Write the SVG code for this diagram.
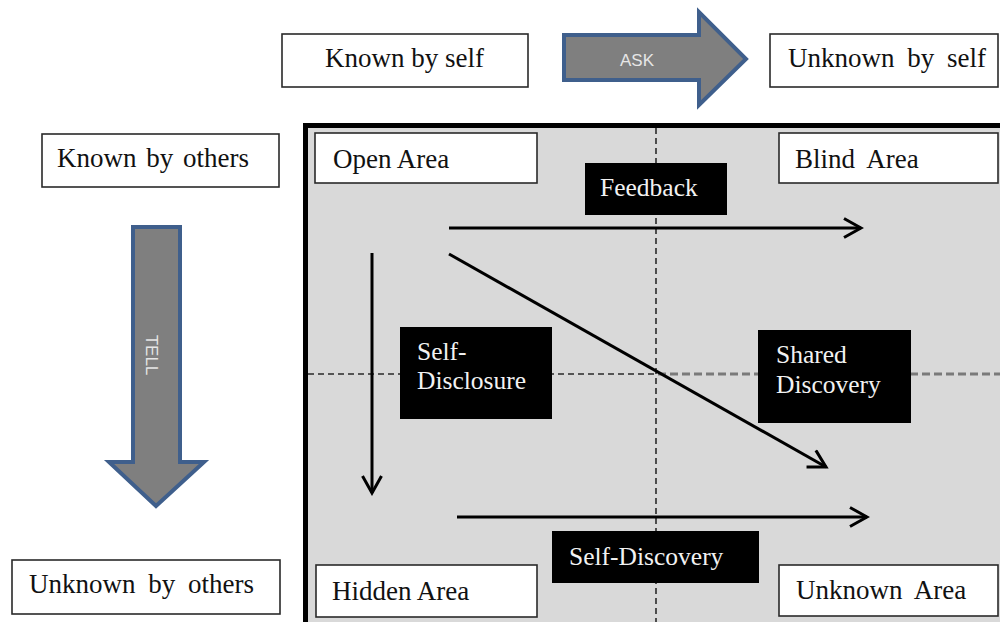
<svg xmlns="http://www.w3.org/2000/svg" width="1000" height="622" viewBox="0 0 1000 622">
<defs>
<style>
.wb{fill:#ffffff;stroke:#2a2a2a;stroke-width:1.6}
.bb{fill:#000000;stroke:none}
.wt{font-family:"Liberation Serif","Times New Roman",serif;font-size:27px;fill:#111111}
.bt{font-family:"Liberation Serif","Times New Roman",serif;font-size:25.5px;fill:#f2f2f2}
.big{fill:#7f7f7f;stroke:#3f5f8c;stroke-width:4;stroke-linejoin:miter}
.at{font-family:"Liberation Sans",Arial,sans-serif;font-size:17px;fill:#e6e6e6}
.conn{stroke:#000000;stroke-width:3;fill:none}
.dash{stroke:#2a2a2a;stroke-width:1.6;stroke-dasharray:6 4;fill:none}
.dash2{stroke:#7a7a7a;stroke-width:3;stroke-dasharray:8 4;fill:none}
</style>
<marker id="ah" markerUnits="userSpaceOnUse" markerWidth="22" markerHeight="22" viewBox="0 0 22 22" refX="19" refY="11" orient="auto">
<path d="M2,1.5 L19,11 L2,20.5" fill="none" stroke="#000" stroke-width="3"/>
</marker>
</defs>
<rect x="0" y="0" width="1000" height="622" fill="#ffffff"/>

<g id="grid-area">
<rect x="305.5" y="125.5" width="800" height="600" fill="#d9d9d9" stroke="#000" stroke-width="5"/>
<line class="dash" x1="656" y1="128" x2="656" y2="622"/>
<line class="dash" x1="308" y1="374" x2="656" y2="374"/>
<line class="dash2" x1="658" y1="374" x2="1000" y2="374"/>
</g>

<g id="known-by-self">
<rect class="wb" x="282" y="34" width="246" height="53"/>
<text class="wt" x="325" y="67">Known by self</text>
</g>
<g id="ask-arrow">
<path class="big" d="M564,35 L699,35 L699,12 L746,59 L699,105 L699,80 L564,80 Z"/>
<text class="at" x="637" y="66" text-anchor="middle">ASK</text>
</g>
<g id="unknown-by-self">
<rect class="wb" x="770" y="34" width="228" height="53"/>
<text class="wt" x="788" y="67" word-spacing="6">Unknown by self</text>
</g>
<g id="known-by-others">
<rect class="wb" x="42" y="134" width="237" height="53"/>
<text class="wt" x="57" y="167" word-spacing="3">Known by others</text>
</g>
<g id="tell-arrow">
<path class="big" d="M133,227 L180,227 L180,462 L204,462 L156,506 L109,462 L133,462 Z"/>
<text class="at" transform="translate(146,355) rotate(90)" text-anchor="middle">TELL</text>
</g>
<g id="unknown-by-others">
<rect class="wb" x="12" y="560" width="268" height="54"/>
<text class="wt" x="29" y="593" word-spacing="6">Unknown by others</text>
</g>

<g id="connectors">
<line class="conn" x1="449" y1="228" x2="861" y2="228" marker-end="url(#ah)"/>
<line class="conn" x1="449" y1="254" x2="826" y2="467" marker-end="url(#ah)"/>
<line class="conn" x1="372" y1="253" x2="372" y2="493" marker-end="url(#ah)"/>
<line class="conn" x1="457" y1="517" x2="867" y2="517" marker-end="url(#ah)"/>
</g>

<g id="open-area">
<rect class="wb" x="315" y="133" width="222" height="50"/>
<text class="wt" x="333" y="168">Open Area</text>
</g>
<g id="blind-area">
<rect class="wb" x="779" y="133" width="219" height="50"/>
<text class="wt" x="795" y="168" word-spacing="6">Blind Area</text>
</g>
<g id="feedback">
<rect class="bb" x="585" y="163" width="142" height="52"/>
<text class="bt" x="600" y="196">Feedback</text>
</g>
<g id="self-disclosure">
<rect class="bb" x="400" y="327" width="152" height="92"/>
<text class="bt" x="417" y="360">Self-</text>
<text class="bt" x="417" y="389">Disclosure</text>
</g>
<g id="shared-discovery">
<rect class="bb" x="758" y="330" width="153" height="93"/>
<text class="bt" x="776" y="363">Shared</text>
<text class="bt" x="776" y="393">Discovery</text>
</g>
<g id="self-discovery">
<rect class="bb" x="552" y="531" width="207" height="52"/>
<text class="bt" x="569" y="565">Self-Discovery</text>
</g>
<g id="hidden-area">
<rect class="wb" x="316" y="565" width="221" height="52"/>
<text class="wt" x="332" y="600">Hidden Area</text>
</g>
<g id="unknown-area">
<rect class="wb" x="779" y="565" width="219" height="51"/>
<text class="wt" x="796" y="599" word-spacing="6">Unknown Area</text>
</g>
</svg>
